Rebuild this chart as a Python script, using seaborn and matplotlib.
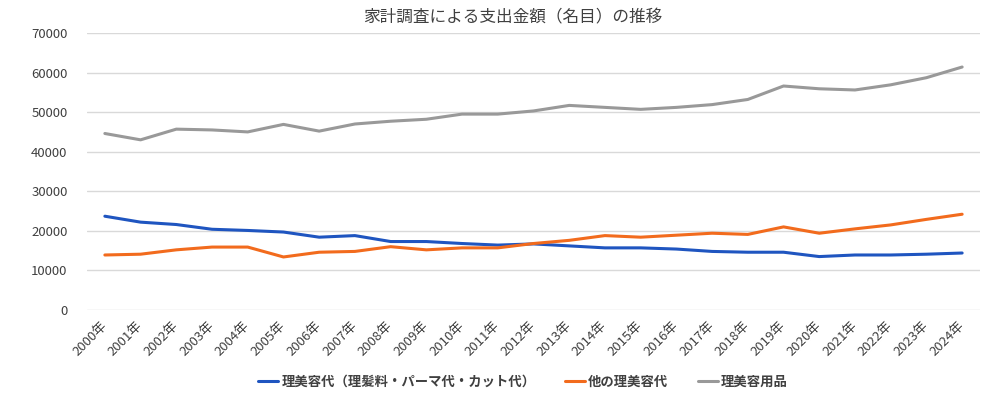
import pandas as pd
import matplotlib
matplotlib.use("Agg")
import matplotlib.pyplot as plt
import seaborn as sns

years = [f"{y}年" for y in range(2000, 2025)]

# 理美容代（理髪料・パーマ代・カット代）
haircut = [23700, 22200, 21600, 20400, 20100, 19700, 18400, 18800, 17300, 17300,
           16800, 16400, 16700, 16200, 15700, 15700, 15400, 14800, 14600, 14600,
           13500, 13900, 13900, 14100, 14400]
# 他の理美容代
other = [13900, 14100, 15200, 15900, 15900, 13400, 14600, 14800, 16000, 15200,
         15700, 15700, 16800, 17600, 18800, 18400, 18900, 19400, 19100, 21000,
         19400, 20500, 21500, 22900, 24200]
# 理美容用品
goods = [44600, 43000, 45700, 45500, 45000, 46900, 45200, 47000, 47700, 48200,
         49500, 49500, 50300, 51700, 51200, 50700, 51200, 51900, 53200, 56600,
         55900, 55600, 56900, 58700, 61400]

series_names = ["理美容代（理髪料・パーマ代・カット代）", "他の理美容代", "理美容用品"]
colors = ["#1F55C0", "#F26B1D", "#999999"]

df = pd.DataFrame({
    "year": years * 3,
    "value": haircut + other + goods,
    "series": [series_names[0]] * len(years) + [series_names[1]] * len(years) + [series_names[2]] * len(years),
})

sns.set_style("white")
plt.rcParams["font.family"] = ["Noto Sans CJK JP", "DejaVu Sans"]

fig = plt.figure(figsize=(10, 3.95), dpi=100)
ax = fig.add_axes([0.087, 0.2152, 0.893, 0.7013])

sns.lineplot(data=df, x="year", y="value", hue="series", palette=colors,
             linewidth=2.2, ax=ax, legend=True, sort=False)

ax.set_xlim(-0.5, len(years) - 0.5)
ax.set_ylim(0, 70000)
ax.set_yticks(range(0, 70001, 10000))
ax.yaxis.grid(True, color="#D9D9D9", linewidth=1)
ax.set_axisbelow(True)
for s in ax.spines.values():
    s.set_visible(False)
ax.tick_params(axis="both", length=0, colors="#404040", labelsize=9.5)
ax.tick_params(axis="y", pad=14)
ax.set_xticks(range(len(years)))
ax.set_xticklabels(years, rotation=45, ha="right", va="center", rotation_mode="anchor")
ax.tick_params(axis="x", pad=10)
ax.set_xlabel("")
ax.set_ylabel("")

fig.text(0.513, 0.955, "家計調査による支出金額（名目）の推移", ha="center", va="center",
         fontsize=12, color="#404040")

handles, labels = ax.get_legend_handles_labels()
ax.get_legend().remove()
leg = fig.legend(handles, labels, loc="center", bbox_to_anchor=(0.523, 0.033), ncol=3,
                 frameon=False, handlelength=1.5, columnspacing=2.2, handletextpad=0.25,
                 prop={"size": 9.6, "weight": "bold"})
for t in leg.get_texts():
    t.set_color("#404040")

fig.savefig("out.png", dpi=100)
